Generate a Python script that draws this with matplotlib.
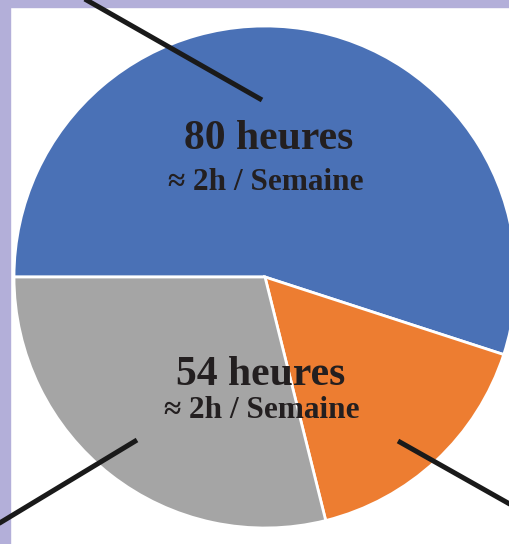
import matplotlib.pyplot as plt
from matplotlib.patches import Rectangle

# wedge sizes (degrees), blue / orange / gray
sizes = [198, 58, 104]
colors = ['#4A71B6', '#ED7D31', '#A5A5A5']
labels_top = ['80 heures', '54 heures']
labels_sub = ['≈ 2h / Semaine', '≈ 2h / Semaine']

W, H = 509, 544
fig = plt.figure(figsize=(W / 100, H / 100), dpi=100)
ax = fig.add_axes([0, 0, 1, 1])

# pixel -> data (y up)
def py(y):
    return H - y

ax.pie(sizes, colors=colors, startangle=180, counterclock=False,
       center=(265, py(277)), radius=251, frame=True,
       wedgeprops=dict(edgecolor='white', linewidth=2))
ax.set_xlim(0, W)
ax.set_ylim(0, H)
ax.set_aspect('equal')
ax.axis('off')

# lavender frame on top and left
lav = '#B3AFD9'
ax.add_patch(Rectangle((0, py(7)), W, 7, color=lav, zorder=5))
ax.add_patch(Rectangle((0, 0), 10, H, color=lav, zorder=5))

# leader lines
lines = [((83, -2), (262, 100)),
         ((-2, 524), (137, 440)),
         ((398, 441), (515, 507))]
for (x0, y0), (x1, y1) in lines:
    ax.plot([x0, x1], [py(y0), py(y1)], color='#1a1a1a', lw=3.6,
            solid_capstyle='butt', zorder=6)

tc = '#231F20'
font = 'Liberation Serif'
ax.text(269, py(149), labels_top[0], ha='center', va='baseline', fontsize=30,
        fontweight='bold', family=font, color=tc, zorder=7)
ax.text(266, py(190), labels_sub[0], ha='center', va='baseline', fontsize=22.5,
        fontweight='bold', family=font, color=tc, zorder=7)
ax.text(261, py(385), labels_top[1], ha='center', va='baseline', fontsize=30,
        fontweight='bold', family=font, color=tc, zorder=7)
ax.text(262, py(418), labels_sub[1], ha='center', va='baseline', fontsize=22.5,
        fontweight='bold', family=font, color=tc, zorder=7)

fig.savefig('out.png', dpi=100)
